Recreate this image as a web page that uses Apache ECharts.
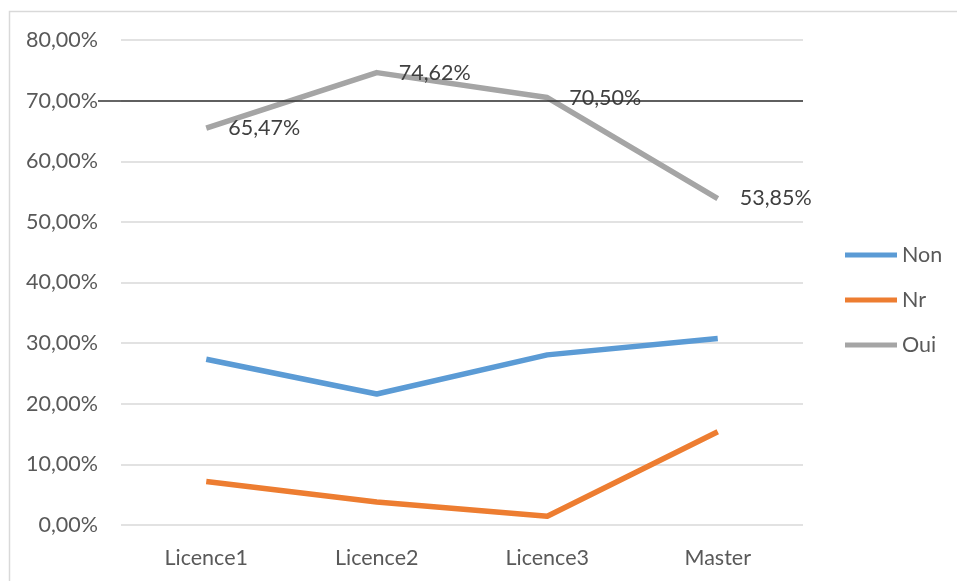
<!DOCTYPE html>
<html>
<head>
<meta charset="utf-8">
<script src="https://cdn.jsdelivr.net/npm/echarts@6/dist/echarts.min.js"></script>
<style>html,body{margin:0;padding:0;background:#fff}#c{width:957px;height:581px}</style>
</head>
<body>
<div id="c"></div>
<script>
const categories = ['Licence1', 'Licence2', 'Licence3', 'Master'];
const nonValues = [27.34, 21.60, 28.06, 30.77];
const nrValues = [7.19, 3.78, 1.44, 15.38];
const ouiValues = [65.47, 74.62, 70.50, 53.85];
const referenceValue = 70;
const yTicks = { min: 0, max: 80, interval: 10 };

const fmt = v => v.toFixed(2).replace('.', ',') + '%';
const FONT = 'Lato';
const FS = 21.5;

const chart = echarts.init(document.getElementById('c'), null, { renderer: 'canvas' });
chart.setOption({
  animation: false,
  backgroundColor: '#ffffff',
  textStyle: { fontFamily: FONT },
  graphic: [{
    type: 'rect', silent: true, z: -10,
    shape: { x: 9.5, y: 11.5, width: 1200, height: 1200 },
    style: { fill: 'none', stroke: '#d9d9d9', lineWidth: 1.5 }
  }],
  grid: { left: 121, right: 154, top: 40, bottom: 56, containLabel: false },
  legend: {
    orient: 'vertical', left: 845, top: 244, padding: 0,
    itemWidth: 52, itemHeight: 5, itemGap: 23, icon: 'rect',
    textStyle: { color: '#595959', fontSize: FS, fontFamily: FONT, lineHeight: 20 },
    data: ['Non', 'Nr', 'Oui']
  },
  xAxis: {
    type: 'category', data: categories, boundaryGap: true,
    axisLine: { show: false }, axisTick: { show: false },
    axisLabel: { color: '#595959', fontSize: FS, fontFamily: FONT, margin: 22 }
  },
  yAxis: {
    type: 'value', min: yTicks.min, max: yTicks.max, interval: yTicks.interval,
    axisLine: { show: false }, axisTick: { show: false },
    axisLabel: { color: '#595959', fontSize: FS, fontFamily: FONT, margin: 23, formatter: v => fmt(v) },
    splitLine: { lineStyle: { color: '#d9d9d9', width: 1.5 } }
  },
  series: [
    {
      name: 'Non', type: 'line', data: nonValues, symbol: 'none',
      lineStyle: { color: '#5b9bd5', width: 5.5, cap: 'butt', join: 'round' },
      itemStyle: { color: '#5b9bd5' }
    },
    {
      name: 'Nr', type: 'line', data: nrValues, symbol: 'none',
      lineStyle: { color: '#ed7d31', width: 5.5, cap: 'butt', join: 'round' },
      itemStyle: { color: '#ed7d31' }
    },
    {
      name: 'Oui', type: 'line', data: ouiValues, symbol: 'circle', symbolSize: 0, showSymbol: true,
      lineStyle: { color: '#a5a5a5', width: 5.5, cap: 'butt', join: 'round' },
      itemStyle: { color: '#a5a5a5' },
      label: {
        show: true, position: 'right', distance: 22,
        color: '#404040', fontSize: FS, fontFamily: FONT,
        formatter: p => fmt(p.value)
      },
      markLine: {
        silent: true, symbol: 'none', label: { show: false },
        lineStyle: { color: '#333333', width: 1.5, type: 'solid' },
        data: [[{ x: 98, yAxis: referenceValue }, { x: 803, yAxis: referenceValue }]]
      }
    }
  ]
});
</script>
</body>
</html>
